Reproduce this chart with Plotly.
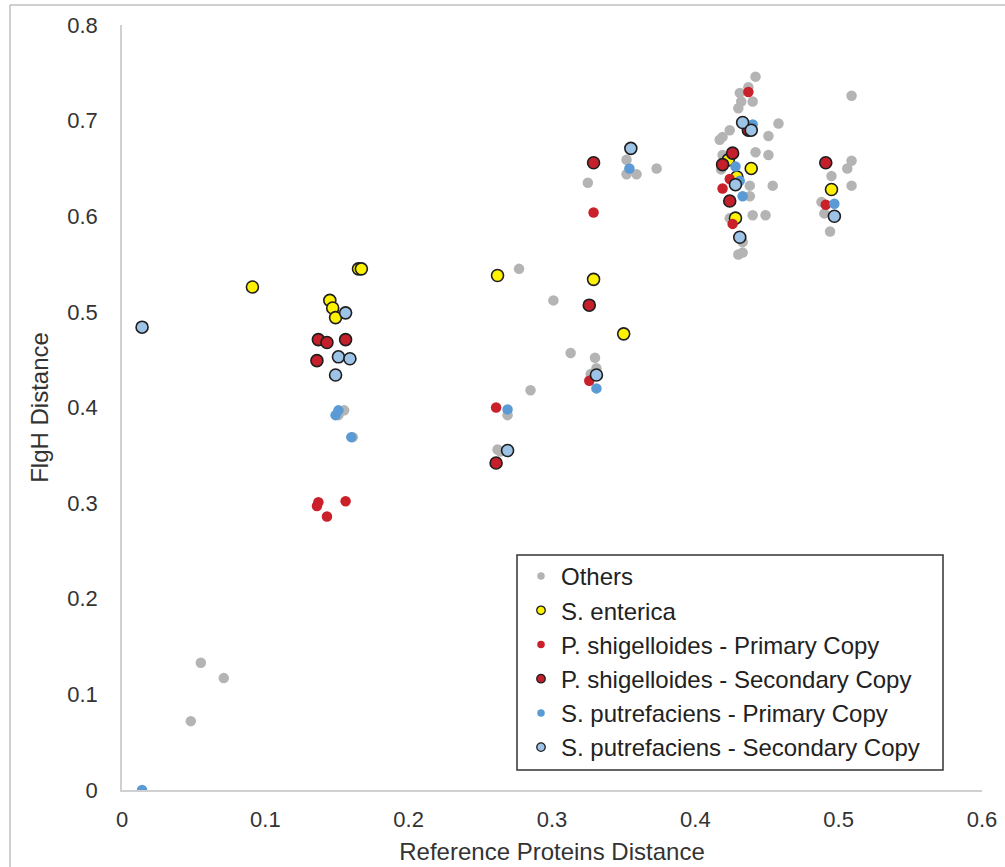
import plotly.graph_objects as go

# ---- data ----
others_x = [0.055, 0.071, 0.048, 0.155, 0.151, 0.161,
            0.277, 0.301, 0.313, 0.330, 0.331, 0.327, 0.285, 0.269, 0.262, 0.264, 0.325,
            0.352, 0.352, 0.359, 0.373,
            0.442, 0.437, 0.431, 0.440, 0.432, 0.430, 0.458, 0.424, 0.419, 0.417, 0.451,
            0.442, 0.451, 0.419, 0.418, 0.438, 0.454, 0.438, 0.440, 0.449, 0.424, 0.433,
            0.430, 0.433,
            0.509, 0.509, 0.506, 0.495, 0.509, 0.488, 0.490, 0.494]
others_y = [0.133, 0.117, 0.072, 0.397, 0.392, 0.369,
            0.545, 0.512, 0.457, 0.452, 0.441, 0.435, 0.418, 0.392, 0.356, 0.354, 0.635,
            0.659, 0.644, 0.644, 0.650,
            0.746, 0.735, 0.729, 0.720, 0.720, 0.713, 0.697, 0.690, 0.683, 0.680, 0.684,
            0.667, 0.664, 0.664, 0.649, 0.632, 0.632, 0.621, 0.601, 0.601, 0.598, 0.573,
            0.560, 0.562,
            0.726, 0.658, 0.650, 0.642, 0.632, 0.615, 0.603, 0.584]

enterica_x = [0.091, 0.145, 0.147, 0.149, 0.165, 0.167, 0.262, 0.329, 0.350,
              0.423, 0.439, 0.429, 0.428, 0.495]
enterica_y = [0.526, 0.512, 0.504, 0.494, 0.545, 0.545, 0.538, 0.534, 0.477,
              0.659, 0.650, 0.641, 0.598, 0.628]

pshig1_x = [0.137, 0.136, 0.156, 0.143, 0.261, 0.326, 0.329,
            0.437, 0.424, 0.419, 0.426, 0.491]
pshig1_y = [0.301, 0.297, 0.302, 0.286, 0.400, 0.428, 0.604,
            0.730, 0.639, 0.629, 0.592, 0.612]

pshig2_x = [0.137, 0.143, 0.156, 0.136, 0.326, 0.261, 0.329,
            0.437, 0.426, 0.419, 0.424, 0.491]
pshig2_y = [0.471, 0.468, 0.471, 0.449, 0.507, 0.342, 0.656,
            0.690, 0.666, 0.654, 0.616, 0.656]

sput1_x = [0.014, 0.151, 0.149, 0.160, 0.269, 0.331, 0.354,
           0.440, 0.428, 0.431, 0.433, 0.497]
sput1_y = [0.000, 0.397, 0.392, 0.369, 0.398, 0.420, 0.650,
           0.696, 0.652, 0.637, 0.621, 0.613]

sput2_x = [0.014, 0.156, 0.151, 0.159, 0.149, 0.269, 0.331, 0.355,
           0.433, 0.439, 0.428, 0.431, 0.497]
sput2_y = [0.484, 0.499, 0.453, 0.451, 0.434, 0.355, 0.434, 0.671,
           0.698, 0.690, 0.633, 0.578, 0.600]

series = [
    ("Others", others_x, others_y, "#B4B4B4", False),
    ("S. enterica", enterica_x, enterica_y, "#FFF200", True),
    ("P. shigelloides - Primary Copy", pshig1_x, pshig1_y, "#C9202A", False),
    ("P. shigelloides - Secondary Copy", pshig2_x, pshig2_y, "#C41F2A", True),
    ("S. putrefaciens - Primary Copy", sput1_x, sput1_y, "#5B9BD5", False),
    ("S. putrefaciens - Secondary Copy", sput2_x, sput2_y, "#9DC3E6", True),
]

FONT = "Liberation Sans, Arial, sans-serif"
OUTLINE = "#1E1E1E"
TXT = "#333333"

fig = go.Figure()
for name, xs, ys, color, outlined in series:
    fig.add_trace(go.Scatter(
        x=xs, y=ys, mode="markers", name=name, showlegend=False,
        marker=dict(size=12 if outlined else 10.5, color=color,
                    line=dict(color=OUTLINE if outlined else color,
                              width=1.6 if outlined else 0)),
    ))
# legend entries (small symbols as in the reference)
for name, xs, ys, color, outlined in series:
    fig.add_trace(go.Scatter(
        x=[None], y=[None], mode="markers", name=name, showlegend=True,
        marker=dict(size=8.5 if outlined else 7.5, color=color,
                    line=dict(color=OUTLINE if outlined else color,
                              width=1.3 if outlined else 0)),
    ))

axis_common = dict(
    showgrid=False, zeroline=False, showline=True, linecolor="#D0D0D0",
    linewidth=1.5, ticks="", tickfont=dict(family=FONT, size=22, color=TXT),
    dtick=0.1, tick0=0, automargin=False,
)

fig.update_layout(
    width=1005, height=867,
    margin=dict(l=122, r=23, t=25, b=77),
    paper_bgcolor="white", plot_bgcolor="white",
    font=dict(family=FONT, color=TXT),
    xaxis=dict(range=[0, 0.6], ticklabelstandoff=9,
               title=dict(text="Reference Proteins Distance",
                          font=dict(family=FONT, size=24, color=TXT),
                          standoff=12),
               **axis_common),
    yaxis=dict(range=[0, 0.8], ticklabelstandoff=18,
               title=dict(text="FlgH Distance",
                          font=dict(family=FONT, size=24, color=TXT),
                          standoff=12),
               **axis_common),
    legend=dict(x=(521 - 122) / 860, y=(790 - 554) / 765, xanchor="left", yanchor="top",
                borderwidth=0, bgcolor="rgba(0,0,0,0)",
                font=dict(family=FONT, size=24, color="#222222"),
                itemsizing="trace", itemwidth=30),
    shapes=[
        # legend box
        dict(type="rect", xref="paper", yref="paper", layer="below",
             x0=(517 - 122) / 860, x1=(943 - 122) / 860,
             y0=(790 - 770) / 765, y1=(790 - 555) / 765,
             line=dict(color="#333333", width=1.5), fillcolor="white"),
        # picture frame (left and top edges)
        dict(type="line", xref="paper", yref="paper",
             x0=(10 - 122) / 860, x1=(10 - 122) / 860,
             y0=-0.2, y1=(790 - 5) / 765, line=dict(color="#A0A0A0", width=1)),
        dict(type="line", xref="paper", yref="paper",
             x0=(10 - 122) / 860, x1=1.1,
             y0=(790 - 5) / 765, y1=(790 - 5) / 765, line=dict(color="#A0A0A0", width=1)),
    ],
)

fig.write_html("out.html")
